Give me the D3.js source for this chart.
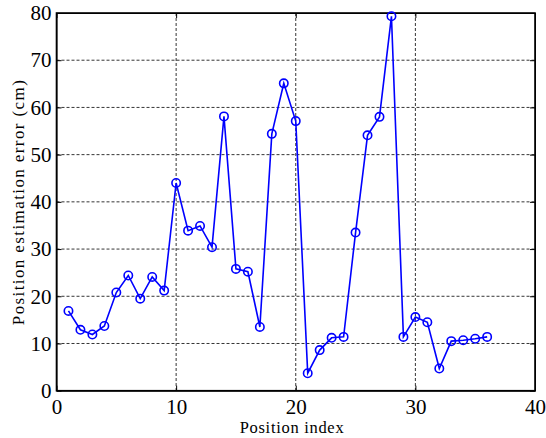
<!DOCTYPE html>
<html>
<head>
<meta charset="utf-8">
<script src="https://cdn.jsdelivr.net/npm/d3@7"></script>
<style>
  body { margin: 0; background: #fff; }
  text { font-family: "Liberation Serif", "Times New Roman", serif; fill: #000; }
</style>
</head>
<body>
<script>
// values
var positions = d3.range(1, 37);
var errors = [16.9, 12.9, 11.9, 13.7, 20.8, 24.4, 19.5, 24.1, 21.2, 44.0,
              33.9, 34.9, 30.4, 58.1, 25.8, 25.2, 13.5, 54.4, 65.1, 57.1,
              3.7, 8.6, 11.2, 11.4, 33.5, 54.1, 58.0, 79.3, 11.4, 15.6,
              14.5, 4.7, 10.5, 10.7, 11.0, 11.4];
var xTicks = [0, 10, 20, 30, 40];
var yTicks = [0, 10, 20, 30, 40, 50, 60, 70, 80];

var W = 546, H = 438;
var margin = {left: 56.5, right: 11, top: 13, bottom: 47.3};
var w = W - margin.left - margin.right, h = H - margin.top - margin.bottom;
var serif = '"Liberation Serif", "Times New Roman", serif';

var svg = d3.select("body").append("svg").attr("width", W).attr("height", H);
var g = svg.append("g").attr("transform", "translate(" + margin.left + "," + margin.top + ")");

var x = d3.scaleLinear().domain([0, 40]).range([0, w]);
var y = d3.scaleLinear().domain([0, 80]).range([h, 0]);

// grid
g.selectAll(".gx").data(xTicks.slice(1, -1)).enter().append("line")
    .attr("x1", function(d) { return x(d); }).attr("x2", function(d) { return x(d); })
    .attr("y1", 0).attr("y2", h)
    .attr("stroke", "#000").attr("stroke-width", 0.8).attr("stroke-dasharray", "3,2");
g.selectAll(".gy").data(yTicks.slice(1, -1)).enter().append("line")
    .attr("y1", function(d) { return y(d); }).attr("y2", function(d) { return y(d); })
    .attr("x1", 0).attr("x2", w)
    .attr("stroke", "#000").attr("stroke-width", 0.8).attr("stroke-dasharray", "3,2");

// axes, ticks pointing inwards on all four sides
g.append("g").attr("transform", "translate(0," + h + ")")
    .call(d3.axisBottom(x).tickValues(xTicks).tickSizeInner(-5).tickSizeOuter(0).tickPadding(8))
    .attr("font-family", serif).attr("font-size", 21);
g.append("g")
    .call(d3.axisLeft(y).tickValues(yTicks).tickSizeInner(-5).tickSizeOuter(0).tickPadding(5))
    .attr("font-family", serif).attr("font-size", 21);
g.append("g")
    .call(d3.axisTop(x).tickValues(xTicks).tickSizeInner(-5).tickSizeOuter(0).tickFormat(""));
g.append("g").attr("transform", "translate(" + w + ",0)")
    .call(d3.axisRight(y).tickValues(yTicks).tickSizeInner(-5).tickSizeOuter(0).tickFormat(""));
g.selectAll(".domain").attr("stroke", "#000");
g.selectAll(".tick line").attr("stroke", "#000");

g.append("rect").attr("width", w).attr("height", h)
    .attr("fill", "none").attr("stroke", "#000").attr("stroke-width", 1.6);

// data line
var line = d3.line().x(function(d, i) { return x(positions[i]); }).y(function(d) { return y(d); });
g.append("path").datum(errors).attr("d", line)
    .attr("fill", "none").attr("stroke", "#0000ff").attr("stroke-width", 1.6);
g.selectAll(".pt").data(errors).enter().append("circle")
    .attr("cx", function(d, i) { return x(positions[i]); })
    .attr("cy", function(d) { return y(d); })
    .attr("r", 4.2).attr("fill", "none").attr("stroke", "#0000ff").attr("stroke-width", 1.6);

// labels
svg.append("text").attr("x", 292).attr("y", 432.5)
    .attr("text-anchor", "middle").style("font-size", "16.5px").style("letter-spacing", "0.7px")
    .text("Position index");
svg.append("text").attr("transform", "translate(23.5,202) rotate(-90)")
    .attr("text-anchor", "middle").style("font-size", "17px").style("letter-spacing", "1.4px")
    .text("Position estimation error (cm)");
</script>
</body>
</html>
